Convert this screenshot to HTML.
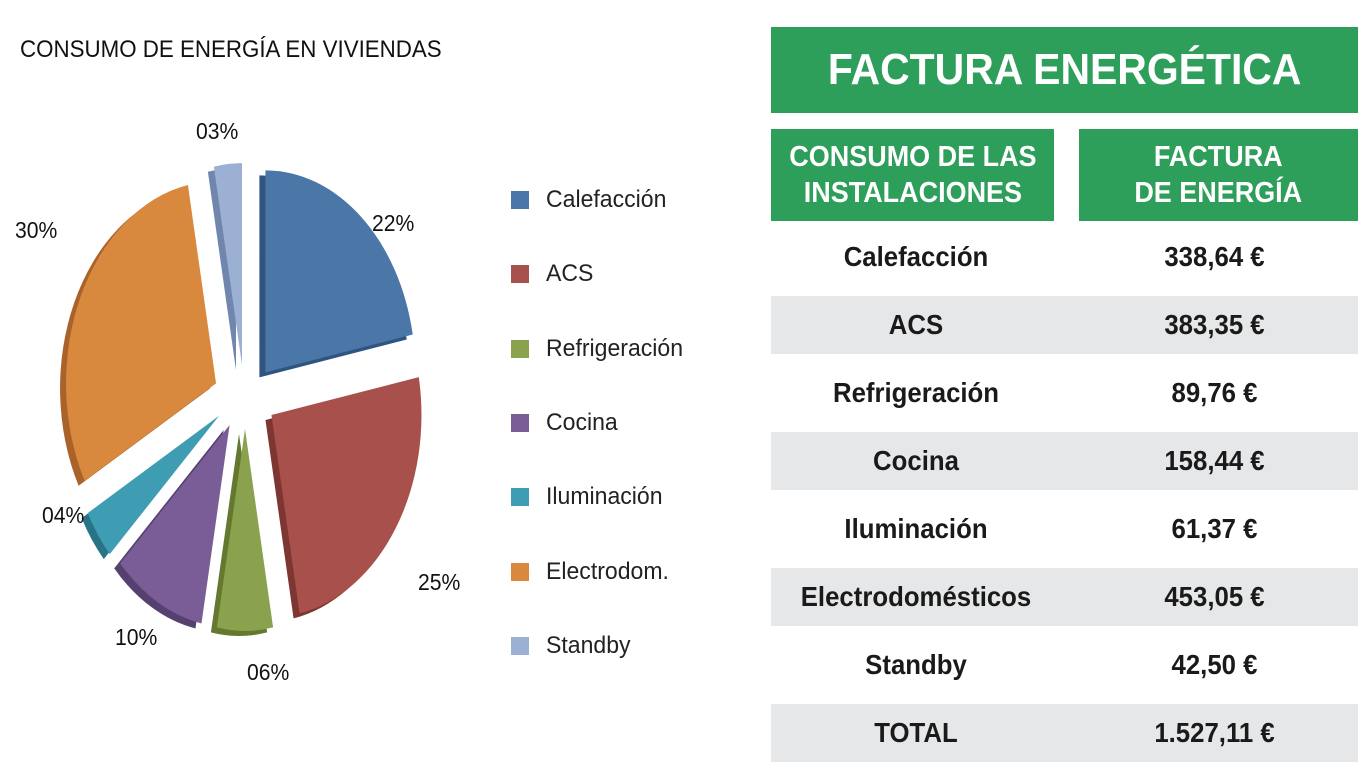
<!DOCTYPE html>
<html><head><meta charset="utf-8"><style>
body{margin:0;width:1371px;height:771px;background:#fff;position:relative;overflow:hidden;font-family:"Liberation Sans",sans-serif}
.a{position:absolute}
.lbl{position:absolute;font-size:23px;color:#111;transform:scaleX(0.92);transform-origin:left}
.leg{position:absolute;left:511px;width:18px;height:18px}
.legt{position:absolute;left:546px;font-size:24px;color:#222;line-height:28px;transform:scaleX(0.96);transform-origin:left;white-space:nowrap}
.g{background:#2e9e5b;color:#fff;font-weight:bold;text-align:center;position:absolute}
.g span{display:inline-block;transform:scaleX(0.93)}
.row{position:absolute;left:771px;width:587px;height:58px;font-weight:bold;font-size:28px;color:#1a1a1a}
.row span{position:absolute;top:0;line-height:58px;text-align:center;transform:scaleX(0.92)}
.c1{left:0;width:290px}.c2{left:300px;width:287px}
</style></head><body>
<div class="a" style="left:20px;top:36px;font-size:24px;color:#111;transform:scaleX(0.93);transform-origin:left;white-space:nowrap">CONSUMO DE ENERGÍA EN VIVIENDAS</div>
<svg class="a" style="left:0;top:0" width="760" height="771"><g id="pie"></g></svg>
<div class="lbl" style="left:196px;top:118px">03%</div>
<div class="lbl" style="left:372px;top:210px">22%</div>
<div class="lbl" style="left:15px;top:217px">30%</div>
<div class="lbl" style="left:42px;top:502px">04%</div>
<div class="lbl" style="left:418px;top:569px">25%</div>
<div class="lbl" style="left:115px;top:624px">10%</div>
<div class="lbl" style="left:247px;top:659px">06%</div>
<div id="legend"></div>
<div class="g" style="left:771px;top:27px;width:587px;height:86px;line-height:86px;font-size:44px"><span>FACTURA ENERGÉTICA</span></div>
<div class="g" style="left:771px;top:129px;width:283px;height:92px;font-size:29px;line-height:36px;padding-top:10px;box-sizing:border-box"><span>CONSUMO DE LAS<br>INSTALACIONES</span></div>
<div class="g" style="left:1079px;top:129px;width:279px;height:92px;font-size:29px;line-height:36px;padding-top:10px;box-sizing:border-box"><span>FACTURA<br>DE ENERGÍA</span></div>
<div id="rows"></div>
<script>
const cats=["Calefacción","ACS","Refrigeración","Cocina","Iluminación","Electrodom.","Standby"];
const pcts=[22,25,6,10,4,30,3];
const names=["Calefacción","ACS","Refrigeración","Cocina","Iluminación","Electrodomésticos","Standby","TOTAL"];
const costs=["338,64 €","383,35 €","89,76 €","158,44 €","61,37 €","453,05 €","42,50 €","1.527,11 €"];
const cols=["#4a76a8","#a8504b","#8aa24e","#7a5d96","#3f9db3","#d9893e","#9cb0d4"];
const dark=["#2f5480","#7d3632","#64792f","#55406f","#287486","#a9632a","#7186ad"];
const cx=245,cy=397,rx=150,ry=202,d=32;
const g=document.getElementById('pie');
const tot=pcts.reduce((a,b)=>a+b,0);
let acc=0;
function pt(ox,oy,a){return [ox+rx*Math.sin(a),oy-ry*Math.cos(a)];}
pcts.forEach((v,i)=>{
 const a0=acc/tot*2*Math.PI;acc+=v;const a1=acc/tot*2*Math.PI;const m=(a0+a1)/2;
 const ox=cx+d*Math.sin(m),oy=cy-d*Math.cos(m);
 [[dark[i],-6,5],[cols[i],0,0]].forEach(([c,dx,dy])=>{
  const X=ox+dx,Y=oy+dy;const p0=pt(X,Y,a0),p1=pt(X,Y,a1);
  const p=document.createElementNS('http://www.w3.org/2000/svg','path');
  p.setAttribute('d',`M${X},${Y}L${p0[0]},${p0[1]}A${rx},${ry} 0 ${a1-a0>Math.PI?1:0} 1 ${p1[0]},${p1[1]}Z`);
  p.setAttribute('fill',c);
  
  
  g.appendChild(p);
 });
});
const L=document.getElementById('legend');
cats.forEach((c,i)=>{
 const y=191+i*74.3;
 const s=document.createElement('div');s.className='leg';s.style.top=y+'px';s.style.background=cols[i];
 
 
 const t=document.createElement('div');t.className='legt';t.style.top=(y-5)+'px';t.textContent=c;
 
 
 L.appendChild(s);L.appendChild(t);
});
const R=document.getElementById('rows');
names.forEach((n,i)=>{
 const r=document.createElement('div');r.className='row';
 r.style.top=(228+i*68)+'px';
 if(i%2==1)r.style.background='#e6e7e8';
 r.innerHTML='<span class="c1">'+n+'</span><span class="c2">'+costs[i]+'</span>';
 
 
 R.appendChild(r);
});
</script>
</body></html>
